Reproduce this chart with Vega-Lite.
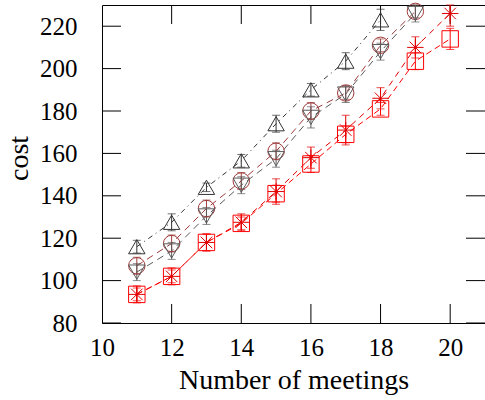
{
  "$schema": "https://vega.github.io/schema/vega-lite/v6.json",
  "width": 383,
  "height": 318,
  "autosize": {"type": "none"},
  "padding": {"left": 102, "top": 5, "right": 0, "bottom": 77},
  "background": "white",
  "config": {
    "view": {"stroke": "black", "strokeWidth": 1},
    "font": "Liberation Serif",
    "axis": {
      "grid": false,
      "domain": false,
      "labelColor": "black",
      "titleColor": "black",
      "labelFont": "Liberation Serif",
      "titleFont": "Liberation Serif",
      "labelFontSize": 25,
      "titleFontSize": 28,
      "titleFontWeight": "normal",
      "labelFlush": false,
      "labelOverlap": false
    }
  },
  "data": {
    "values": [
      {"s": "T1", "x": 11, "y": 116, "lo": 113, "hi": 119},
      {"s": "T1", "x": 12, "y": 127.5, "lo": 123.5, "hi": 131.5},
      {"s": "T1", "x": 13, "y": 144, "lo": 142, "hi": 146},
      {"s": "T1", "x": 14, "y": 156.5, "lo": 153.5, "hi": 159.5},
      {"s": "T1", "x": 15, "y": 174, "lo": 170, "hi": 178},
      {"s": "T1", "x": 16, "y": 190, "lo": 187, "hi": 193},
      {"s": "T1", "x": 17, "y": 203.5, "lo": 199.5, "hi": 207.5},
      {"s": "T1", "x": 18, "y": 223, "lo": 218, "hi": 228},
      {"s": "C", "x": 11, "y": 107, "lo": 103, "hi": 111},
      {"s": "C", "x": 12, "y": 117.5, "lo": 113.5, "hi": 121.5},
      {"s": "C", "x": 13, "y": 134, "lo": 130, "hi": 138},
      {"s": "C", "x": 14, "y": 147, "lo": 143, "hi": 151},
      {"s": "C", "x": 15, "y": 161, "lo": 157, "hi": 165},
      {"s": "C", "x": 16, "y": 180, "lo": 176, "hi": 184},
      {"s": "C", "x": 17, "y": 188.5, "lo": 185.5, "hi": 191.5},
      {"s": "C", "x": 18, "y": 211, "lo": 208, "hi": 214},
      {"s": "C", "x": 19, "y": 227, "lo": 224, "hi": 230},
      {"s": "T2", "x": 11, "y": 104, "lo": 100, "hi": 108},
      {"s": "T2", "x": 12, "y": 114, "lo": 110, "hi": 118},
      {"s": "T2", "x": 13, "y": 130.5, "lo": 126.5, "hi": 134.5},
      {"s": "T2", "x": 14, "y": 145, "lo": 141, "hi": 149},
      {"s": "T2", "x": 15, "y": 157.5, "lo": 153.5, "hi": 161.5},
      {"s": "T2", "x": 16, "y": 177, "lo": 172, "hi": 182},
      {"s": "T2", "x": 17, "y": 188, "lo": 184, "hi": 192},
      {"s": "T2", "x": 18, "y": 208, "lo": 204, "hi": 212},
      {"s": "T2", "x": 19, "y": 226, "lo": 222, "hi": 230},
      {"s": "S", "x": 11, "y": 93.5, "lo": 89.5, "hi": 97.5},
      {"s": "S", "x": 12, "y": 102, "lo": 98, "hi": 106},
      {"s": "S", "x": 13, "y": 118, "lo": 114, "hi": 122},
      {"s": "S", "x": 14, "y": 127.5, "lo": 123.5, "hi": 131.5},
      {"s": "S", "x": 15, "y": 142, "lo": 136, "hi": 148},
      {"s": "S", "x": 16, "y": 158, "lo": 153, "hi": 163},
      {"s": "S", "x": 17, "y": 171, "lo": 164, "hi": 178},
      {"s": "S", "x": 18, "y": 186, "lo": 181, "hi": 191},
      {"s": "S", "x": 19, "y": 210, "lo": 205, "hi": 215},
      {"s": "S", "x": 20, "y": 226, "lo": 220, "hi": 230},
      {"s": "Q", "x": 11, "y": 93.5, "lo": 90.5, "hi": 96.5},
      {"s": "Q", "x": 12, "y": 102, "lo": 99, "hi": 105},
      {"s": "Q", "x": 13, "y": 118, "lo": 114, "hi": 122},
      {"s": "Q", "x": 14, "y": 127, "lo": 124, "hi": 130},
      {"s": "Q", "x": 15, "y": 141, "lo": 137, "hi": 145},
      {"s": "Q", "x": 16, "y": 155, "lo": 151, "hi": 159},
      {"s": "Q", "x": 17, "y": 169, "lo": 165, "hi": 173},
      {"s": "Q", "x": 18, "y": 181, "lo": 178, "hi": 184},
      {"s": "Q", "x": 19, "y": 203.5, "lo": 199.5, "hi": 207.5},
      {"s": "Q", "x": 20, "y": 214, "lo": 209, "hi": 219}
    ]
  },
  "layer": [
    {
      "data": {"values": [{"t": 12}, {"t": 14}, {"t": 16}, {"t": 18}, {"t": 20}]},
      "mark": {"type": "tick", "color": "#000000", "orient": "vertical", "size": 19, "thickness": 1, "opacity": 1},
      "encoding": {
        "x": {"field": "t", "type": "quantitative", "axis": null},
        "y": {"datum": 84.48, "type": "quantitative", "axis": null}
      }
    },
    {
      "data": {"values": [{"t": 12}, {"t": 14}, {"t": 16}, {"t": 18}, {"t": 20}]},
      "mark": {"type": "tick", "color": "#000000", "orient": "vertical", "size": 19, "thickness": 1, "opacity": 1},
      "encoding": {
        "x": {"field": "t", "type": "quantitative", "axis": null},
        "y": {"datum": 225.52, "type": "quantitative", "axis": null}
      }
    },
    {
      "data": {"values": [{"t": 80}, {"t": 100}, {"t": 120}, {"t": 140}, {"t": 160}, {"t": 180}, {"t": 200}, {"t": 220}]},
      "mark": {"type": "tick", "color": "#000000", "orient": "horizontal", "size": 19, "thickness": 1, "opacity": 1},
      "encoding": {
        "y": {"field": "t", "type": "quantitative", "axis": null},
        "x": {"datum": 10.273, "type": "quantitative", "axis": null}
      }
    },
    {
      "data": {"values": [{"t": 80}, {"t": 100}, {"t": 120}, {"t": 140}, {"t": 160}, {"t": 180}, {"t": 200}, {"t": 220}]},
      "mark": {"type": "tick", "color": "#000000", "orient": "horizontal", "size": 19, "thickness": 1, "opacity": 1},
      "encoding": {
        "y": {"field": "t", "type": "quantitative", "axis": null},
        "x": {"datum": 20.727, "type": "quantitative", "axis": null}
      }
    },
    {
      "mark": {"type": "line", "strokeWidth": 1},
      "encoding": {
        "x": {
          "field": "x", "type": "quantitative",
          "scale": {"domain": [10, 21], "nice": false, "zero": false},
          "axis": {
            "orient": "bottom", "values": [10, 12, 14, 16, 18, 20],
            "offset": -19, "ticks": true, "tickSize": 19, "tickWidth": 1, "tickOpacity": 0,
            "title": "Number of meetings",
            "labelBaseline": "alphabetic", "labelPadding": 32,
            "titleBaseline": "alphabetic", "titleY": 84
          }
        },
        "y": {
          "field": "y", "type": "quantitative",
          "scale": {"domain": [80, 230], "nice": false, "zero": false},
          "axis": {
            "orient": "left", "values": [80, 100, 120, 140, 160, 180, 200, 220],
            "offset": -19, "ticks": true, "tickSize": 19, "tickWidth": 1, "tickOpacity": 0,
            "title": "cost", "labelPadding": 25,
            "titleAngle": 270, "titleBaseline": "alphabetic",
            "titleX": -94, "titleY": 153, "titleAlign": "center"
          }
        },
        "color": {
          "field": "s", "type": "nominal", "legend": null,
          "scale": {"domain": ["T1", "C", "T2", "S", "Q"], "range": ["#333333", "#9e3a3a", "#5a5a5a", "#e00000", "#ff0000"]}
        },
        "strokeDash": {
          "field": "s", "type": "nominal", "legend": null,
          "scale": {"domain": ["T1", "C", "T2", "S", "Q"], "range": [[5, 4, 1, 4], [7, 5], [7, 5], [6, 5], [6, 4]]}
        }
      }
    },
    {
      "mark": {"type": "errorbar", "ticks": {"size": 8, "thickness": 1}, "rule": {"strokeWidth": 1}},
      "encoding": {
        "x": {"field": "x", "type": "quantitative", "axis": null},
        "y": {"field": "lo", "type": "quantitative", "axis": null},
        "y2": {"field": "hi"},
        "color": {"field": "s", "type": "nominal", "legend": null}
      }
    },
    {
      "mark": {"type": "point", "filled": false, "size": 270, "strokeWidth": 1, "opacity": 1},
      "encoding": {
        "x": {"field": "x", "type": "quantitative", "axis": null},
        "y": {"field": "y", "type": "quantitative", "axis": null},
        "color": {"field": "s", "type": "nominal", "legend": null},
        "shape": {
          "field": "s", "type": "nominal", "legend": null,
          "scale": {
            "domain": ["T1", "C", "T2", "S", "Q"],
            "range": ["triangle-up", "circle", "triangle-down", "M-1,0L1,0M0,-1L0,1M-0.7,-0.7L0.7,0.7M-0.7,0.7L0.7,-0.7", "square"]
          }
        }
      }
    }
  ],
  "resolve": {"axis": {"x": "independent", "y": "independent"}}
}
